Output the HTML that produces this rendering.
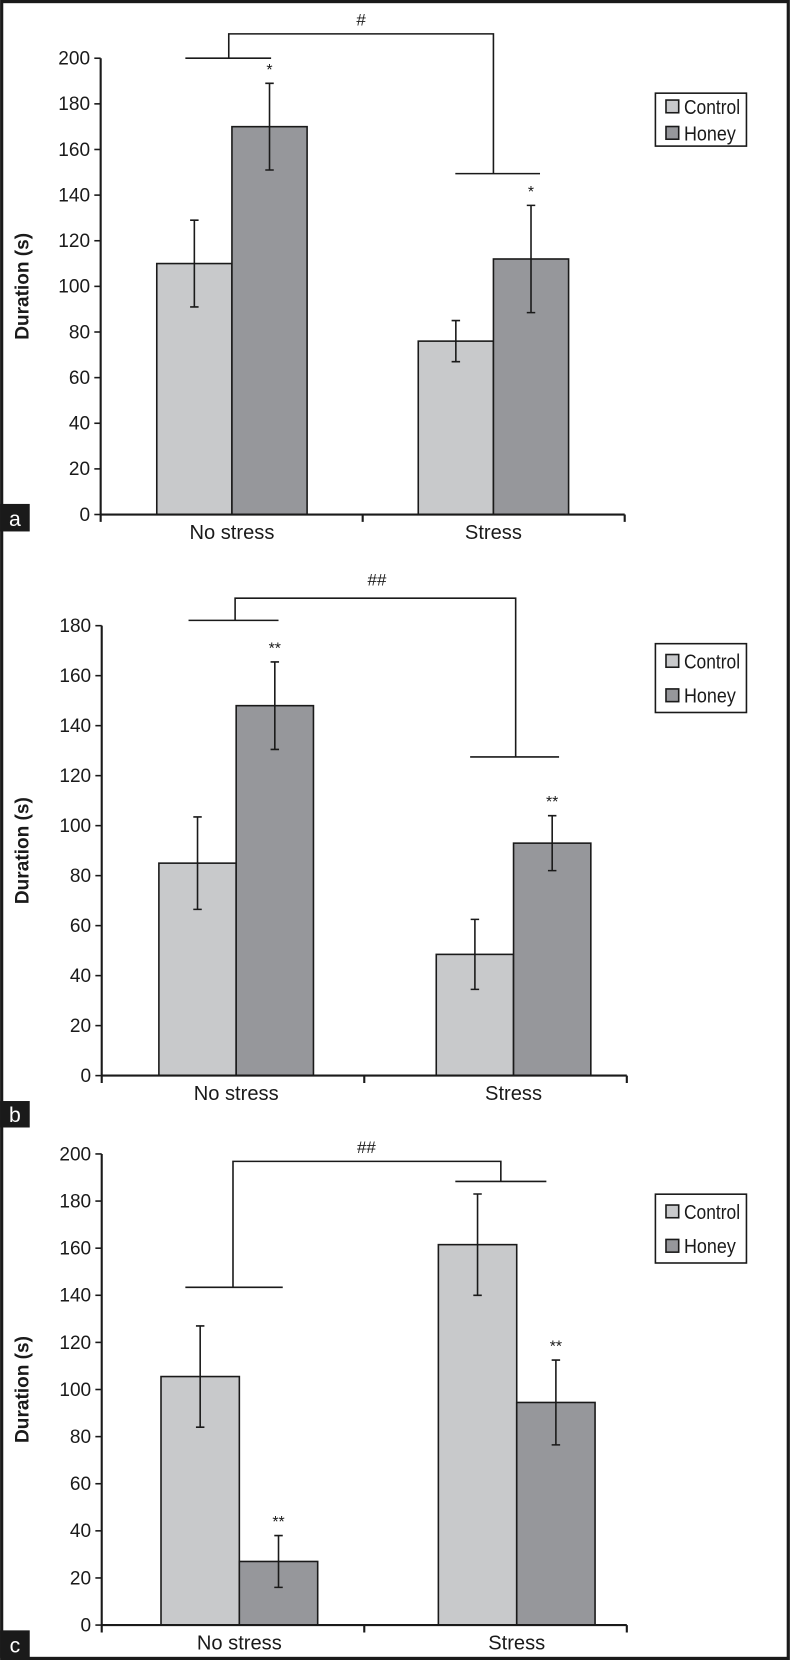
<!DOCTYPE html>
<html><head><meta charset="utf-8"><style>
html,body{margin:0;padding:0;background:#fff;}
svg{display:block;font-family:"Liberation Sans",sans-serif;}
</style></head><body>
<svg id="fig" width="791" height="1660" viewBox="0 0 747 1568" xmlns="http://www.w3.org/2000/svg">
<rect x="1.5" y="1.5" width="743" height="1565" fill="#fff" stroke="#1a1a1a" stroke-width="3"/>
</svg>
<script>
const categories = ["No stress", "Stress"];
const seriesNames = ["Control", "Honey"];
const controlA = [110, 76];
const honeyA = [170, 112];
const controlErrA = [19, 9];
const honeyErrA = [19, 23.5];
const controlB = [85, 48.5];
const honeyB = [148, 93];
const controlErrB = [18.5, 14];
const honeyErrB = [17.5, 11];
const controlC = [105.5, 161.5];
const honeyC = [27, 94.5];
const controlErrC = [21.5, 21.5];
const honeyErrC = [11, 18];
const ticksA = [0,20,40,60,80,100,120,140,160,180,200];
const ticksB = [0,20,40,60,80,100,120,140,160,180];
const ticksC = [0,20,40,60,80,100,120,140,160,180,200];
const starsA = ["", "*", "", "*"];
const starsB = ["", "**", "", "**"];
const starsC = ["", "**", "", "**"];

const NS = "http://www.w3.org/2000/svg";
const svg = document.getElementById("fig");
function mk(tag, attrs, parent) {
  const e = document.createElementNS(NS, tag);
  for (const k in attrs) e.setAttribute(k, attrs[k]);
  (parent || svg).appendChild(e);
  return e;
}
const colors = ["#c8c9cb", "#96979b"];

const panels = [
  {id:"a", ctrl:controlA, hon:honeyA, ce:controlErrA, he:honeyErrA, ticks:ticksA, stars:starsA, max:200,
   x0:95, x1:590, y0:486, yTop:55, gx:[148,395], bw:71, label:"#", labelX:341, labelY:24,
   bTop:32, bL:216, bR:466, hL:[175,256,55], hR:[430,510,164], leg:[619,88,86,50], tag:[476,502], tagLetter:"a"},
  {id:"b", ctrl:controlB, hon:honeyB, ce:controlErrB, he:honeyErrB, ticks:ticksB, stars:starsB, max:180,
   x0:96, x1:592, y0:1016, yTop:591, gx:[150,412], bw:73, label:"##", labelX:356, labelY:553,
   bTop:565, bL:222, bR:487, hL:[178,263,586], hR:[444,528,715], leg:[619,608,86,65], tag:[1040,1065], tagLetter:"b"},
  {id:"c", ctrl:controlC, hon:honeyC, ce:controlErrC, he:honeyErrC, ticks:ticksC, stars:starsC, max:200,
   x0:96, x1:592, y0:1535, yTop:1090, gx:[152,414], bw:74, label:"##", labelX:346, labelY:1089,
   bTop:1097, bL:220, bR:473, hL:[175,267,1216], hR:[430,516,1116], leg:[619,1128,86,65], tag:[1540,1566], tagLetter:"c"}
];

panels.forEach(p => {
  const g = mk("g", {});
  
  
  const y = v => p.y0 - (v / p.max) * (p.y0 - p.yTop);
  const xBand = (i, s) => p.gx[i] + s * p.bw;
  const ax = mk("line", {x1:p.x0, y1:p.yTop, x2:p.x0, y2:p.y0, stroke:"#1a1a1a", "stroke-width":2}, g);
  
  
  p.ticks.forEach(t => {
    mk("line", {x1:p.x0-6, y1:y(t), x2:p.x0, y2:y(t), stroke:"#1a1a1a", "stroke-width":1.5}, g);
    const tx = mk("text", {x:p.x0-10, y:y(t)+6, "text-anchor":"end", "font-size":18, fill:"#1a1a1a"}, g);
    if (String(t).length === 3) { tx.setAttribute("textLength", 30); tx.setAttribute("lengthAdjust", "spacingAndGlyphs"); }
    tx.textContent = t;
    
    
  });
  const yt = mk("text", {x:0, y:0, transform:`translate(${27},${(p.y0+p.yTop)/2}) rotate(-90)`, "text-anchor":"middle", "font-size":18, "font-weight":"bold", fill:"#1a1a1a"}, g);
  yt.textContent = "Duration (s)";
  
  
  categories.forEach((c, i) => {
    [[p.ctrl, p.ce], [p.hon, p.he]].forEach((sd, s) => {
      const v = sd[0][i], e = sd[1][i];
      const bx = xBand(i, s);
      const r = mk("rect", {x:bx, y:y(v), width:p.bw, height:p.y0 - y(v), fill:colors[s], stroke:"#1a1a1a", "stroke-width":1.5}, g);
      
      
      const cx = bx + p.bw / 2;
      const eb = mk("path", {d:`M${cx},${y(v+e)}V${y(v-e)}M${cx-4},${y(v+e)}H${cx+4}M${cx-4},${y(v-e)}H${cx+4}`, stroke:"#1a1a1a", "stroke-width":1.5, fill:"none"}, g);
      
      
      const st = p.stars[i*2+s];
      if (st) {
        const sx = mk("text", {x:cx, y:y(v+e)-8, "text-anchor":"middle", "font-size":15, fill:"#1a1a1a"}, g);
        sx.textContent = st;
        
        
      }
    });
    const xl = mk("text", {x:xBand(i,1), y:p.y0+23, "text-anchor":"middle", "font-size":19, fill:"#1a1a1a"}, g);
    xl.textContent = c;
    
    
  });
  const xa = mk("path", {d:`M${p.x0},${p.y0}H${p.x1}M${p.x0},${p.y0}v7M${(p.x0+p.x1)/2},${p.y0}v7M${p.x1},${p.y0}v7`, stroke:"#1a1a1a", "stroke-width":2, fill:"none"}, g);
  
  
  const br = mk("path", {d:`M${p.bL},${p.hL[2]}V${p.bTop}H${p.bR}V${p.hR[2]}M${p.hL[0]},${p.hL[2]}H${p.hL[1]}M${p.hR[0]},${p.hR[2]}H${p.hR[1]}`, stroke:"#1a1a1a", "stroke-width":1.5, fill:"none"}, g);
  
  
  const hl = mk("text", {x:p.labelX, y:p.labelY, "text-anchor":"middle", "font-size":16, fill:"#1a1a1a"}, g);
  hl.textContent = p.label;
  
  
  const L = p.leg;
  const lg = mk("g", {}, g);
  
  
  mk("rect", {x:L[0], y:L[1], width:L[2], height:L[3], fill:"#fff", stroke:"#1a1a1a", "stroke-width":1.5}, lg);
  seriesNames.forEach((n, s) => {
    const ey = L[1] + (L[3]/4) * (1 + 2*s);
    const le = mk("g", {}, lg);
    
    
    mk("rect", {x:L[0]+10, y:ey-6, width:12, height:12, fill:colors[s], stroke:"#1a1a1a", "stroke-width":1.5}, le);
    const t = mk("text", {x:L[0]+27, y:ey+7, "font-size":19, fill:"#1a1a1a", textLength:(n === "Control" ? 53 : 49), lengthAdjust:"spacingAndGlyphs"}, le);
    t.textContent = n;
  });
  const tg = mk("g", {}, g);
  
  
  mk("rect", {x:0, y:p.tag[0], width:28, height:p.tag[1]-p.tag[0], fill:"#1a1a1a"}, tg);
  const tt = mk("text", {x:14, y:p.tag[1]-5, "text-anchor":"middle", "font-size":20, fill:"#fff"}, tg);
  tt.textContent = p.tagLetter;
});
</script>
</body></html>
